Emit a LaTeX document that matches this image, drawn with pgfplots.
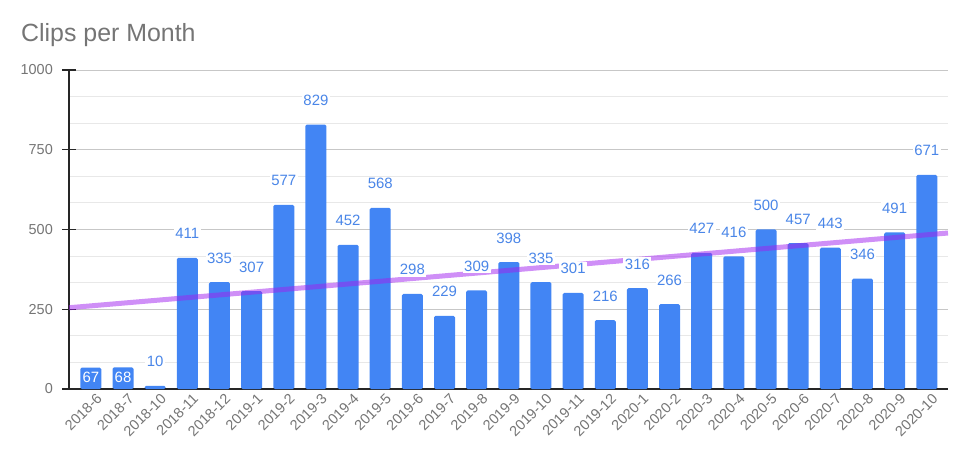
\documentclass[border=0pt]{standalone}
\usepackage{pgfplots}
\pgfplotsset{compat=1.18}
\usepackage{pgfplotstable}
\usepackage{fontspec}
\setmainfont{Liberation Sans}
\definecolor{barblue}{HTML}{4285F4}
\definecolor{lblblue}{HTML}{4A86E8}
\definecolor{txtgray}{HTML}{757575}
\definecolor{trend}{HTML}{A020F0}
\pgfplotstableread{
x y
0 67
1 68
2 10
3 411
4 335
5 307
6 577
7 829
8 452
9 568
10 298
11 229
12 309
13 398
14 335
15 301
16 216
17 316
18 266
19 427
20 416
21 500
22 457
23 443
24 346
25 491
26 671
}\datamain
\pgfplotstableread{
x y
0 67
1 68
}\datain
\pgfplotstableread{
x y
2 10
3 411
4 335
5 307
6 577
7 829
8 452
9 568
10 298
11 229
12 309
13 398
14 335
15 301
16 216
17 316
18 266
19 427
20 416
21 500
22 457
23 443
24 346
25 491
26 671
}\dataabove
\pgfplotstableread{
x y
-0.68 254.8
26.66 489.0
}\datatrend
\begin{document}
\begin{tikzpicture}
\path[use as bounding box] (0,0) rectangle (971bp,461bp);
\node[anchor=base west, text=txtgray, font=\fontsize{25}{29}\selectfont, inner sep=0pt] at (21bp,419bp) {Clips per Month};
\begin{axis}[
  at={(69bp,72bp)}, anchor=south west,
  scale only axis, width=879bp, height=319bp,
  xmin=-0.68, xmax=26.66, ymin=0, ymax=1000,
  /pgf/number format/assume math mode=true,
  axis x line*=bottom, axis y line*=left,
  axis line style={draw=black!85, line width=1.1bp},
  ytick={0,250,500,750,1000}, yticklabels={0,250,500,750,1000},
  minor y tick num=2,
  ymajorgrids, yminorgrids,
  major grid style={draw=black!22, line width=0.9bp},
  minor grid style={draw=black!9, line width=0.9bp},
  major tick length=14bp, minor tick length=0pt, tick align=center,
  ytick style={draw=black!85, line width=1.1bp},
  xtick={0,...,26},
  xticklabels={2018-6,2018-7,2018-10,2018-11,2018-12,2019-1,2019-2,2019-3,2019-4,2019-5,2019-6,2019-7,2019-8,2019-9,2019-10,2019-11,2019-12,2020-1,2020-2,2020-3,2020-4,2020-5,2020-6,2020-7,2020-8,2020-9,2020-10},
  xtick style={draw=none},
  ticklabel style={font=\fontsize{14.5}{16}\selectfont, text=txtgray},
  yticklabel style={anchor=east, inner sep=0pt, xshift=-9bp},
  xticklabel style={rotate=45, anchor=east, inner sep=0pt, xshift=6bp, yshift=-6bp},
  clip=false,
]
\addplot[ybar, bar width=21bp, bar shift=0pt, fill=barblue, draw=none, rounded corners=1.5bp] table[x=x,y=y] {\datamain};
\addplot[draw=trend, opacity=0.5, line width=5bp] table[x=x,y=y] {\datatrend};
\addplot[draw=none, mark=none, nodes near coords,
  every node near coord/.append style={font=\fontsize{15}{17}\selectfont, text=lblblue, fill=white, inner sep=1.5bp, anchor=base, yshift=19bp}] table[x=x,y=y] {\dataabove};
\addplot[draw=none, mark=none, nodes near coords,
  every node near coord/.append style={font=\fontsize{15}{17}\selectfont, text=white, inner sep=0pt, anchor=base, yshift=-15bp}] table[x=x,y=y] {\datain};
\end{axis}
\end{tikzpicture}
\end{document}
